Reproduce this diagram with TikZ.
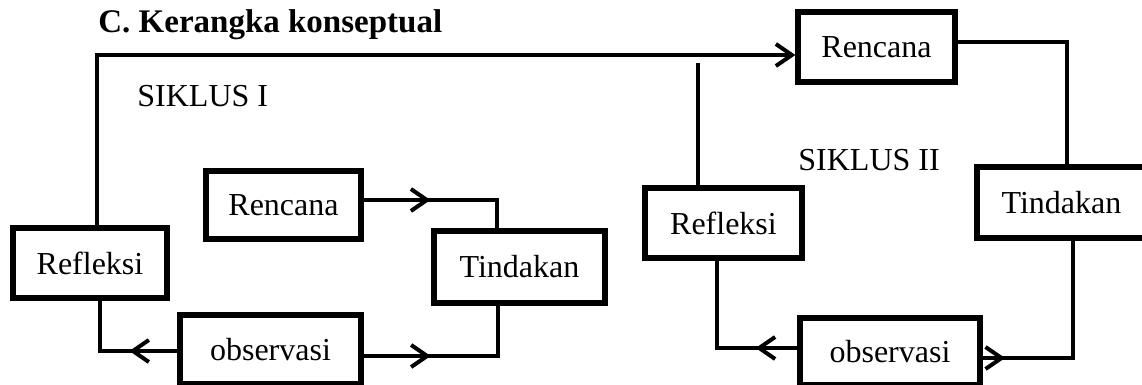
\documentclass[tikz,border=0pt]{standalone}
\usepackage{fontspec}
\setmainfont{Liberation Serif}
\usetikzlibrary{arrows.meta,decorations.markings}

\begin{document}
\begin{tikzpicture}[x=0.5pt,y=-0.5pt,
  kotak/.style={draw,line width=2.6pt,inner sep=0pt,font=\fontsize{16}{19}\selectfont},
  garis/.style={line width=2pt},
  ujung/.style={garis,-{Straight Barb[length=8pt,width=11pt]}},
  tengah/.style={postaction={decorate},decoration={markings,
    mark=at position #1 with {\arrow{Straight Barb[length=8pt,width=11pt]}}}},
  teks/.style={anchor=base west,inner sep=0pt,font=\fontsize{16}{19}\selectfont}]
\useasboundingbox (0,0) rectangle (1142,385);

% judul dan label siklus
\node[teks,font=\bfseries\fontsize{16.5}{20}\selectfont] (judul) at (98,33) {C. Kerangka konseptual};
\node[teks] (siklusA) at (137,107) {SIKLUS I};
\node[teks] (siklusB) at (798,171) {SIKLUS II};

% siklus I
\node[kotak,minimum width=77pt,minimum height=35pt] (reflA) at (90,263) {Refleksi};
\node[kotak,minimum width=77.5pt,minimum height=34pt] (rencA) at (283.5,205) {Rencana};
\node[kotak,minimum width=85.5pt,minimum height=36pt] (tindA) at (519.5,267) {Tindakan};
\node[kotak,minimum width=90.5pt,minimum height=34.5pt] (obsA) at (270.5,349.5) {observasi};

% siklus II
\node[kotak,minimum width=78.5pt,minimum height=35pt] (rencB) at (876.5,47) {Rencana};
\node[kotak,minimum width=78.5pt,minimum height=35pt] (reflB) at (723.5,223) {Refleksi};
\node[kotak,minimum width=84.5pt,minimum height=35.5pt] (tindB) at (1061.5,202.5) {Tindakan};
\node[kotak,minimum width=90pt,minimum height=33.5pt] (obsB) at (890,351.5) {observasi};

% titik belok
\coordinate (atas) at (97,55);
\coordinate (kaA) at (497,200);
\coordinate (bwA) at (498,356);
\coordinate (kiA) at (100,351);
\coordinate (cabang) at (698,63);
\coordinate (kaB) at (1067,42);
\coordinate (bwB) at (1073,358);
\coordinate (kiB) at (717,348);

% panah siklus I
\draw[ujung] (reflA.north -| atas) -- (atas) -- (atas -| rencB.west);
\draw[garis,tengah=0.413] (rencA.east |- kaA) -- (kaA) -- (kaA |- tindA.north);
\draw[garis,tengah=0.363] (obsA.east |- bwA) -- (bwA) -- (bwA |- tindA.south);
\draw[garis,tengah=0.376] (obsA.west |- kiA) -- (kiA) -- (kiA |- reflA.south);

% panah siklus II
\draw[garis] (reflB.north -| cabang) -- (cabang);
\draw[garis] (rencB.east |- kaB) -- (kaB) -- (kaB |- tindB.north);
\draw[garis,tengah=0.108] (obsB.east |- bwB) -- (bwB) -- (bwB |- tindB.south);
\draw[garis,tengah=0.249] (obsB.west |- kiB) -- (kiB) -- (kiB |- reflB.south);

\end{tikzpicture}
\end{document}
